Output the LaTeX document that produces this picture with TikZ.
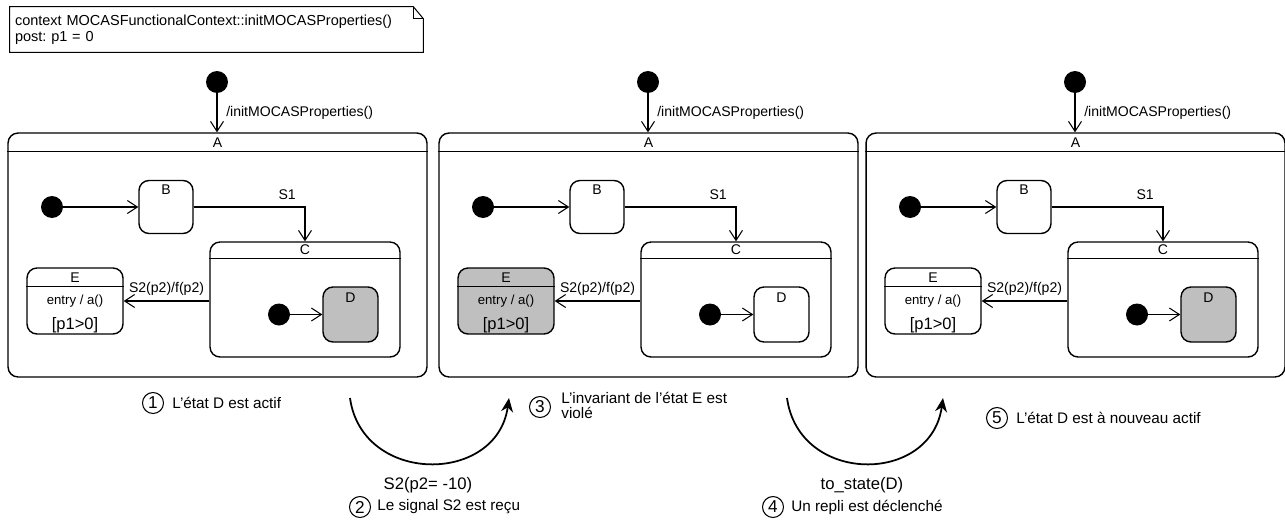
\documentclass[tikz,border=0pt]{standalone}
\usepackage{fontspec}
\setmainfont{Liberation Sans}
\usetikzlibrary{arrows.meta}
\frenchspacing

\begin{document}
\begin{tikzpicture}[x=0.02cm, y=-0.02cm,
  every node/.style={font=\fontsize{8}{9.5}\selectfont},
  etat/.style={draw, line width=0.8pt, rounded corners=2mm, inner sep=0pt},
  actif/.style={etat, fill=gray!50},
  init/.style={circle, fill=black, inner sep=0pt, minimum size=0.44cm},
  titre/.style={inner sep=0pt},
  etiq/.style={inner sep=1pt},
  trans/.style={-{Straight Barb[length=2mm, width=2.6mm]}, line width=0.6pt},
  saut/.style={-{Stealth[length=2.8mm, width=2.4mm]}, line width=1pt},
  num/.style={circle, draw, line width=0.6pt, minimum size=0.42cm, inner sep=0pt, font=\fontsize{9.8}{11}\selectfont},
  legende/.style={anchor=west, align=left, inner sep=0pt, font=\fontsize{8.7}{8.6}\selectfont},
  appel/.style={inner sep=0pt, font=\fontsize{9.5}{11}\selectfont}]
\useasboundingbox (0,0) rectangle (1285,521);
\node[text width=8.06cm, inner xsep=0.1cm, inner ysep=0pt, minimum height=0.9cm, align=left,
      font=\fontsize{8.25}{9.1}\selectfont] (note) at (216.5,29.5)
  {context MOCASFunctionalContext::initMOCASProperties()\\post: p1 = 0};
\draw[line width=0.6pt] (note.north west) -- ([xshift=-0.2cm]note.north east)
  -- ([yshift=-0.24cm]note.north east) -- (note.south east) -- (note.south west) -- cycle;
\draw[line width=0.6pt] ([xshift=-0.2cm]note.north east) |- ([yshift=-0.24cm]note.north east);

\node[init] (i1) at (217,82) {};
\node[etat, minimum width=8.38cm, minimum height=4.88cm] (A1) at (217.5,255) {};
\node[titre] (tA1) at ([yshift=-0.2cm]A1.north) {A};
\draw[line width=0.8pt] ([yshift=-0.38cm]A1.north west) -- ([yshift=-0.38cm]A1.north east);
\node[init] (j1) at (52,207) {};
\node[etat, minimum width=1.08cm, minimum height=1.06cm] (B1) at (166,207) {};
\node[titre] (tB1) at ([yshift=-0.2cm]B1.north) {B};
\node[etat, minimum width=3.8cm, minimum height=2.3cm] (C1) at (305,299.5) {};
\node[titre] (tC1) at ([yshift=-0.17cm]C1.north) {C};
\draw[line width=0.8pt] ([yshift=-0.34cm]C1.north west) -- ([yshift=-0.34cm]C1.north east);
\node[actif, minimum width=1.1cm, minimum height=1.1cm] (D1) at (350.5,314.5) {};
\node[titre] (tD1) at ([yshift=-0.22cm]D1.north) {D};
\node[init] (k1) at (279,314.5) {};
\node[etat, minimum width=1.92cm, minimum height=1.32cm] (E1) at (75,301) {};
\node[titre] (tE1) at ([yshift=-0.2cm]E1.north) {E};
\draw[line width=0.8pt] ([yshift=-0.38cm]E1.north west) -- ([yshift=-0.38cm]E1.north east);
\node[titre, font=\fontsize{7.5}{9}\selectfont] (eE1) at (E1.center) {entry / a()};
\node[titre, font=\fontsize{9.4}{11}\selectfont] (gE1) at ([yshift=-0.48cm]E1.center) {[p1>0]};
\draw[trans] (i1) -- node[etiq, right=0.14cm]{/initMOCASProperties()} (i1 |- A1.north);
\draw[trans] (j1) -- (B1);
\draw[trans] (B1) -| node[etiq, pos=0.42, above=3pt]{S1} (C1);
\draw[trans] (k1) -- (D1);
\draw[trans] (C1.west |- E1) -- node[etiq, above=2pt]{S2(p2)/f(p2)} (E1);

\node[init] (i2) at (648,82) {};
\node[etat, minimum width=8.38cm, minimum height=4.88cm] (A2) at (648.5,255) {};
\node[titre] (tA2) at ([yshift=-0.2cm]A2.north) {A};
\draw[line width=0.8pt] ([yshift=-0.38cm]A2.north west) -- ([yshift=-0.38cm]A2.north east);
\node[init] (j2) at (483,207) {};
\node[etat, minimum width=1.08cm, minimum height=1.06cm] (B2) at (597,207) {};
\node[titre] (tB2) at ([yshift=-0.2cm]B2.north) {B};
\node[etat, minimum width=3.8cm, minimum height=2.3cm] (C2) at (736,299.5) {};
\node[titre] (tC2) at ([yshift=-0.17cm]C2.north) {C};
\draw[line width=0.8pt] ([yshift=-0.34cm]C2.north west) -- ([yshift=-0.34cm]C2.north east);
\node[etat, minimum width=1.1cm, minimum height=1.1cm] (D2) at (781.5,314.5) {};
\node[titre] (tD2) at ([yshift=-0.22cm]D2.north) {D};
\node[init] (k2) at (710,314.5) {};
\node[actif, minimum width=1.92cm, minimum height=1.32cm] (E2) at (506,301) {};
\node[titre] (tE2) at ([yshift=-0.2cm]E2.north) {E};
\draw[line width=0.8pt] ([yshift=-0.38cm]E2.north west) -- ([yshift=-0.38cm]E2.north east);
\node[titre, font=\fontsize{7.5}{9}\selectfont] (eE2) at (E2.center) {entry / a()};
\node[titre, font=\fontsize{9.4}{11}\selectfont] (gE2) at ([yshift=-0.48cm]E2.center) {[p1>0]};
\draw[trans] (i2) -- node[etiq, right=0.14cm]{/initMOCASProperties()} (i2 |- A2.north);
\draw[trans] (j2) -- (B2);
\draw[trans] (B2) -| node[etiq, pos=0.42, above=3pt]{S1} (C2);
\draw[trans] (k2) -- (D2);
\draw[trans] (C2.west |- E2) -- node[etiq, above=2pt]{S2(p2)/f(p2)} (E2);

\node[init] (i3) at (1075,82) {};
\node[etat, minimum width=8.38cm, minimum height=4.88cm] (A3) at (1075.5,255) {};
\node[titre] (tA3) at ([yshift=-0.2cm]A3.north) {A};
\draw[line width=0.8pt] ([yshift=-0.38cm]A3.north west) -- ([yshift=-0.38cm]A3.north east);
\node[init] (j3) at (910,207) {};
\node[etat, minimum width=1.08cm, minimum height=1.06cm] (B3) at (1024,207) {};
\node[titre] (tB3) at ([yshift=-0.2cm]B3.north) {B};
\node[etat, minimum width=3.8cm, minimum height=2.3cm] (C3) at (1163,299.5) {};
\node[titre] (tC3) at ([yshift=-0.17cm]C3.north) {C};
\draw[line width=0.8pt] ([yshift=-0.34cm]C3.north west) -- ([yshift=-0.34cm]C3.north east);
\node[actif, minimum width=1.1cm, minimum height=1.1cm] (D3) at (1208.5,314.5) {};
\node[titre] (tD3) at ([yshift=-0.22cm]D3.north) {D};
\node[init] (k3) at (1137,314.5) {};
\node[etat, minimum width=1.92cm, minimum height=1.32cm] (E3) at (933,301) {};
\node[titre] (tE3) at ([yshift=-0.2cm]E3.north) {E};
\draw[line width=0.8pt] ([yshift=-0.38cm]E3.north west) -- ([yshift=-0.38cm]E3.north east);
\node[titre, font=\fontsize{7.5}{9}\selectfont] (eE3) at (E3.center) {entry / a()};
\node[titre, font=\fontsize{9.4}{11}\selectfont] (gE3) at ([yshift=-0.48cm]E3.center) {[p1>0]};
\draw[trans] (i3) -- node[etiq, right=0.14cm]{/initMOCASProperties()} (i3 |- A3.north);
\draw[trans] (j3) -- (B3);
\draw[trans] (B3) -| node[etiq, pos=0.42, above=3pt]{S1} (C3);
\draw[trans] (k3) -- (D3);
\draw[trans] (C3.west |- E3) -- node[etiq, above=2pt]{S2(p2)/f(p2)} (E3);

\node[num] (n1) at (153,403) {1};
\node[legende] (l1) at (172,403) {L'état D est actif};
\coordinate (s1) at (350,398);
\coordinate (t1) at (509,398);
\draw[saut] (s1) .. controls (362,485) and (497,485) .. (t1);
\node[appel] (g1) at (428,485) {S2(p2= -10)};
\node[num] (n2) at (360,507) {2};
\node[legende] (l2) at (377,507) {Le signal S2 est reçu};
\node[num] (n3) at (540,407) {3};
\node[legende] (l3) at (561,405) {L'invariant de l'état E est\\violé};
\coordinate (s2) at (787,398);
\coordinate (t2) at (943,398);
\draw[saut] (s2) .. controls (799,485) and (931,485) .. (t2);
\node[appel] (g2) at (862,485) {to\_state(D)};
\node[num] (n4) at (773,507) {4};
\node[legende] (l4) at (791,507) {Un repli est déclenché};
\node[num] (n5) at (997,418) {5};
\node[legende] (l5) at (1016,418) {L'état D est à nouveau actif};
\end{tikzpicture}
\end{document}
